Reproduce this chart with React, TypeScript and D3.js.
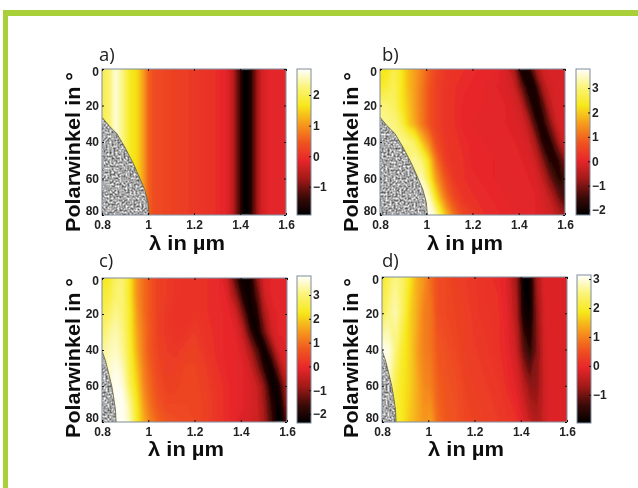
import React, { useEffect, useRef } from 'react';
import * as d3 from 'd3';

const anglesFine = [0, 10, 20, 30, 40, 50, 60, 70, 80];
const anglesCoarse = [0, 20, 40, 60, 80];
const anglesFlat = [0, 80];

const wavelengthsA = [0.8, 0.83, 0.86, 0.89, 0.92, 0.95, 0.98, 1.0, 1.03, 1.1, 1.2, 1.3, 1.35, 1.37, 1.39, 1.41, 1.43, 1.45, 1.47, 1.49, 1.52, 1.6];
const wavelengthsWide = [0.8, 0.83, 0.86, 0.89, 0.92, 0.95, 0.98, 1.01, 1.04, 1.08, 1.12, 1.16, 1.2, 1.25, 1.3, 1.34, 1.38, 1.41, 1.44, 1.47, 1.5, 1.53, 1.56, 1.58, 1.6];

const rowA = [2.0, 2.2, 2.7, 2.3, 1.75, 1.6, 1.1, 0.6, 0.35, 0.25, 0.12, -0.02, -0.2, -0.5, -1.1, -1.75, -1.9, -1.5, -0.85, -0.35, -0.15, -0.15];
const valuesA = [rowA, rowA];

const valuesB = [
  [2.3, 2.3, 2.7, 2.4, 1.9, 1.6, 1.3, .9, .6, .35, .25, .2, .15, .1, .05, -.05, -.6, -2.0, -1.9, -.8, -.2, -.1, -.1, -.1, -.1],
  [2.4, 2.6, 2.8, 2.4, 1.9, 1.6, 1.2, .8, .5, .3, .2, .15, .1, .05, 0, -.05, -.2, -1.0, -1.9, -1.9, -.7, -.2, -.1, -.1, -.1],
  [3.1, 3.0, 2.9, 2.4, 2.0, 1.6, 1.2, .8, .5, .3, .2, .1, .1, .05, 0, 0, -.1, -.3, -1.2, -2.0, -1.5, -.5, -.1, -.1, -.1],
  [3.2, 3.2, 3.1, 2.8, 2.1, 1.7, 1.2, .8, .5, .3, .2, .1, .05, .05, 0, 0, -.05, -.1, -.4, -1.4, -1.9, -1.1, -.3, -.1, -.1],
  [3.2, 3.2, 3.2, 3.2, 3.1, 2.8, 2.0, 1.4, .7, .35, .25, .15, .1, .05, .05, 0, 0, -.05, -.15, -.6, -1.6, -1.9, -1.0, -.4, -.2],
  [3.0, 3, 3, 3, 3.1, 3.3, 3.0, 2.2, 1.2, .45, .25, .2, .1, .1, .05, .05, 0, 0, -.05, -.2, -.8, -1.6, -1.8, -1.4, -.8],
  [3, 3, 3, 3, 3, 3.2, 3.5, 2.6, 1.6, .8, .35, .2, .15, .1, .05, .05, .05, 0, 0, -.05, -.3, -.9, -1.5, -1.7, -1.4],
  [3, 3, 3, 3, 3, 3, 3.6, 3.5, 2.3, 1.2, .6, .3, .2, .15, .1, .05, .05, .05, 0, 0, -.1, -.3, -.8, -1.2, -1.4],
  [3, 3, 3, 3, 3, 3, 3.5, 3.8, 3.4, 2.0, 1.1, .6, .4, .2, .15, .1, .05, .05, .05, 0, -.05, -.15, -.3, -.5, -.7],
];

const valuesC = [
  [2.3, 2.4, 2.9, 3.0, 2.3, 1.4, 1.0, .7, .4, .3, .2, .15, .1, .1, .05, -.3, -1.6, -2.3, -2.2, -1.0, -.2, -.1, -.1, -.1, -.1],
  [2.5, 2.6, 3.0, 3.0, 2.3, 1.4, 1.0, .7, .4, .3, .2, .1, .1, .1, .05, -.1, -.9, -2.0, -2.2, -1.5, -.4, -.1, -.1, -.1, -.1],
  [2.7, 2.9, 3.2, 3.0, 2.4, 1.5, 1.0, .7, .4, .25, .1, .1, .2, .1, .05, 0, -.3, -1.2, -2.2, -2.0, -.8, -.2, -.1, -.1, -.1],
  [2.9, 3.2, 3.4, 3.1, 2.4, 1.6, 1.1, .7, .4, .25, .15, .2, .3, .15, .05, 0, -.1, -.5, -1.6, -2.3, -1.3, -.4, -.1, -.1, -.1],
  [3.2, 3.4, 3.5, 3.2, 2.5, 1.7, 1.1, .7, .45, .3, .25, .35, .4, .2, .05, 0, -.05, -.2, -.7, -1.5, -2.3, -1.3, -.3, -.15, -.1],
  [3.3, 3.5, 3.7, 3.4, 2.6, 1.9, 1.2, .8, .5, .35, .35, .45, .45, .3, .1, 0, -.05, -.1, -.3, -.9, -1.8, -2.3, -1.2, -.5, -.2],
  [3.3, 3.5, 3.8, 3.6, 2.8, 2.1, 1.3, .9, .6, .4, .4, .5, .5, .35, .15, .05, -.05, -.1, -.2, -.4, -1.0, -2.1, -2.2, -1.3, -.6],
  [3.3, 3.5, 3.8, 3.8, 3.2, 2.3, 1.5, 1.0, .7, .5, .5, .5, .5, .4, .2, .05, -.05, -.1, -.2, -.3, -.8, -1.7, -2.3, -1.9, -.8],
  [3.3, 3.5, 3.8, 3.8, 3.4, 2.4, 1.7, 1.2, .9, .7, .6, .55, .5, .4, .2, .05, -.1, -.2, -.25, -.35, -.7, -1.5, -2.3, -2.3, -1.3],
];

const valuesD = [
  [1.9, 2.3, 2.6, 2.4, 1.9, 1.4, 1.2, .8, .5, .4, .3, .25, .2, .1, .05, -.1, -.7, -1.9, -1.9, -.6, -.15, -.1, -.1, -.1, -.1],
  [2.2, 2.6, 2.8, 2.3, 1.7, 1.4, 1.0, .9, .5, .4, .35, .3, .2, .15, .1, -.05, -.5, -1.7, -1.9, -.8, -.2, -.1, -.1, -.1, -.1],
  [3.1, 3.0, 2.5, 2.0, 1.7, 1.3, 1.0, .9, .6, .5, .4, .3, .25, .2, .1, 0, -.3, -1.1, -1.5, -.9, -.25, -.1, -.1, -.1, -.1],
  [3.0, 2.8, 2.2, 1.9, 1.7, 1.4, 1.1, 1.0, .7, .55, .5, .35, .3, .25, .2, .05, -.1, -.4, -.8, -.8, -.3, -.1, -.1, -.1, -.1],
  [2.6, 2.4, 2.1, 1.9, 1.6, 1.4, 1.2, 1.3, .8, .6, .55, .4, .35, .3, .25, .2, .1, -.1, -.35, -.55, -.3, -.1, -.1, -.1, -.1],
];

// edge of the grey region, as [wavelength, angle]
const maskAB = [[0.8, 26.5], [0.83, 31], [0.865, 35.5], [0.9, 43], [0.937, 52], [0.965, 60], [0.985, 66], [1.0, 73], [1.005, 80]];
const maskCD = [[0.8, 40.5], [0.815, 46], [0.829, 53], [0.842, 60], [0.85, 66], [0.858, 73], [0.861, 80]];

const xTicks = [0.8, 1, 1.2, 1.4, 1.6];
const yTicks = [0, 20, 40, 60, 80];

const panels = [
  { name: 'a)', lambda: wavelengthsA, angle: anglesFlat, values: valuesA, mask: maskAB, domain: [-1.92, 2.85], bar: [-1, 0, 1, 2], left: 102, top: 69, width: 184, height: 146, barX: 297, barTop: 69, barH: 146, labelX: 99, labelY: 61, yLabelX: 80, xLabelX: 187, xLabelY: 250, yLabelY: 152 },
  { name: 'b)', lambda: wavelengthsWide, angle: anglesFine, values: valuesB, mask: maskAB, domain: [-2.2, 3.78], bar: [-2, -1, 0, 1, 2, 3], left: 380, top: 69, width: 185, height: 146, barX: 576, barTop: 69, barH: 146, labelX: 382, labelY: 61, yLabelX: 358, xLabelX: 465, xLabelY: 250, yLabelY: 152 },
  { name: 'c)', lambda: wavelengthsWide, angle: anglesFine, values: valuesC, mask: maskCD, domain: [-2.38, 3.8], bar: [-2, -1, 0, 1, 2, 3], left: 102, top: 278, width: 185, height: 144, barX: 297, barTop: 276, barH: 147, labelX: 99, labelY: 267, yLabelX: 80, xLabelX: 186, xLabelY: 456, yLabelY: 358 },
  { name: 'd)', lambda: wavelengthsWide, angle: anglesCoarse, values: valuesD, mask: maskCD, domain: [-1.97, 3.14], bar: [-1, 0, 1, 2, 3], left: 382, top: 277, width: 185, height: 145, barX: 577, barTop: 275, barH: 148, labelX: 382, labelY: 267, yLabelX: 358, xLabelX: 466, xLabelY: 456, yLabelY: 358 },
];

const hot = d3.scaleLinear<string>()
  .domain([0, 0.12, 0.25, 0.375, 0.5, 0.62, 0.75, 0.88, 1])
  .range(['#000000', '#3a0a08', '#a31a18', '#e8262a', '#f0561f', '#f6981c', '#f7e81a', '#fbf47c', '#ffffff']);

const FONT = '"Liberation Sans", Arial, sans-serif';

export default function App() {
  const ref = useRef<SVGSVGElement>(null);

  useEffect(() => {
    const svg = d3.select(ref.current);
    svg.selectAll('*').remove();

    const defs = svg.append('defs');
    const soft = defs.append('filter').attr('id', 'soft').attr('x', '-5%').attr('y', '-5%').attr('width', '110%').attr('height', '110%');
    soft.append('feGaussianBlur').attr('stdDeviation', 1.2);
    const textBlur = defs.append('filter').attr('id', 'textBlur').attr('x', '-10%').attr('y', '-10%').attr('width', '120%').attr('height', '120%');
    textBlur.append('feGaussianBlur').attr('stdDeviation', 0.4);
    const noise = defs.append('filter').attr('id', 'speckle').attr('x', 0).attr('y', 0).attr('width', '100%').attr('height', '100%')
      .attr('color-interpolation-filters', 'sRGB');
    noise.append('feTurbulence').attr('type', 'fractalNoise').attr('baseFrequency', 0.5).attr('numOctaves', 2).attr('seed', 4).attr('result', 'n');
    noise.append('feColorMatrix').attr('in', 'n').attr('type', 'matrix')
      .attr('values', '1.2 0 0 0 0.06 1.2 0 0 0 0.06 1.2 0 0 0 0.06 0 0 0 0 1').attr('result', 'g');
    noise.append('feGaussianBlur').attr('in', 'g').attr('stdDeviation', 0.4).attr('result', 'b');
    noise.append('feComposite').attr('in', 'b').attr('in2', 'SourceAlpha').attr('operator', 'in');

    // green page frame
    svg.append('rect').attr('x', 3).attr('y', 10).attr('width', 635).attr('height', 6).attr('fill', '#a9d039');
    svg.append('rect').attr('x', 3).attr('y', 10).attr('width', 5).attr('height', 478).attr('fill', '#a9d039');

    panels.forEach((p, idx) => {
      const g = svg.append('g');
      const x = d3.scaleLinear().domain([0.8, 1.6]).range([p.left, p.left + p.width]);
      const y = d3.scaleLinear().domain([0, 80]).range([p.top, p.top + p.height]);
      const c = d3.scaleLinear().domain(p.domain).range([0, 1]).clamp(true);
      const color = (v: number) => hot(c(v));

      const n = p.lambda.length;
      const m = p.angle.length;
      // contour coordinates put grid point i at i + 0.5
      const ix = d3.scaleLinear().domain(p.lambda.map((_, i) => i + 0.5)).range(p.lambda).clamp(true);
      const iy = d3.scaleLinear().domain(p.angle.map((_, i) => i + 0.5)).range(p.angle).clamp(true);
      const path = d3.geoPath(d3.geoTransform({
        point(px, py) { this.stream.point(x(ix(px)), y(iy(py))); },
      }));
      const thresholds = d3.range(p.domain[0], p.domain[1], (p.domain[1] - p.domain[0]) / 90);
      const contours = d3.contours().size([n, m]).thresholds(thresholds)(p.values.flat());

      const clipId = `clip${idx}`;
      defs.append('clipPath').attr('id', clipId).append('rect')
        .attr('x', p.left).attr('y', p.top).attr('width', p.width).attr('height', p.height);

      const plot = g.append('g').attr('clip-path', `url(#${clipId})`);
      const field = plot.append('g').attr('filter', 'url(#soft)');
      field.selectAll('path').data(contours).join('path')
        .attr('d', d => path(d))
        .attr('fill', d => color(d.value))
        .attr('stroke', d => color(d.value))
        .attr('stroke-width', 0.5);

      const area = d3.area<number[]>().x0(x(0.8)).x1(d => x(d[0])).y(d => y(d[1]));
      const maskPath = area([...p.mask, [p.mask[p.mask.length - 1][0], 80]]);
      plot.append('path').attr('d', maskPath).attr('fill', '#888').attr('filter', 'url(#speckle)');
      const edge = d3.line<number[]>().x(d => x(d[0])).y(d => y(d[1]));
      plot.append('path').attr('d', edge(p.mask)).attr('fill', 'none').attr('stroke', '#5a5a44').attr('stroke-width', 0.8);

      // box and ticks
      g.append('rect').attr('x', p.left).attr('y', p.top).attr('width', p.width).attr('height', p.height)
        .attr('fill', 'none').attr('stroke', '#7f8c9c').attr('stroke-width', 1);

      const styleAxis = (a: any) => {
        a.select('.domain').remove();
        a.selectAll('line').attr('stroke', '#111').attr('stroke-width', 1);
        a.selectAll('text').attr('font-family', FONT).attr('font-weight', 700).attr('font-size', 12).attr('fill', '#222').attr('filter', 'url(#textBlur)');
      };
      g.append('g').attr('transform', `translate(0,${p.top + p.height})`)
        .call(d3.axisBottom(x).tickValues(xTicks).tickFormat(d3.format('~g') as any).tickSize(-2).tickPadding(5))
        .call(styleAxis);
      g.append('g').attr('transform', `translate(${p.left},0)`)
        .call(d3.axisLeft(y).tickValues(yTicks).tickFormat(d3.format('d') as any).tickSize(-2).tickPadding(3))
        .call(styleAxis)
        // end labels sit slightly inside the axis, clear of the 0.8 below
        .call((a: any) => {
          a.selectAll('text').attr('dy', (d: number) => (d === 80 ? '-0.05em' : d === 0 ? '0.5em' : '0.32em'));
        });
      g.append('g').attr('transform', `translate(0,${p.top})`)
        .call(d3.axisTop(x).tickValues(xTicks).tickFormat(() => '').tickSize(-2))
        .call(styleAxis);
      g.append('g').attr('transform', `translate(${p.left + p.width},0)`)
        .call(d3.axisRight(y).tickValues(yTicks).tickFormat(() => '').tickSize(-2))
        .call(styleAxis);

      // colour bar
      const gradId = `grad${idx}`;
      const grad = defs.append('linearGradient').attr('id', gradId).attr('x1', 0).attr('x2', 0).attr('y1', 1).attr('y2', 0);
      hot.domain().forEach(t => {
        grad.append('stop').attr('offset', t).attr('stop-color', hot(t));
      });
      const barW = 14;
      const by = d3.scaleLinear().domain(p.domain).range([p.barTop + p.barH, p.barTop]);
      g.append('rect').attr('x', p.barX).attr('y', p.barTop).attr('width', barW).attr('height', p.barH)
        .attr('fill', `url(#${gradId})`).attr('stroke', '#7f8c9c').attr('stroke-width', 1);
      g.append('g').attr('transform', `translate(${p.barX + barW},0)`)
        .call(d3.axisRight(by).tickValues(p.bar).tickFormat(d3.format('d') as any).tickSize(-2).tickPadding(2))
        .call(styleAxis);

      // titles
      g.append('text').attr('x', p.labelX).attr('y', p.labelY).text(p.name)
        .attr('font-family', '"Open Sans", sans-serif').attr('font-size', 18.5).attr('fill', '#222').attr('filter', 'url(#textBlur)');
      g.append('text').attr('transform', `translate(${p.yLabelX},${p.yLabelY}) rotate(-90)`)
        .attr('text-anchor', 'middle').text('Polarwinkel in °')
        .attr('textLength', 160).attr('lengthAdjust', 'spacingAndGlyphs')
        .attr('font-family', FONT).attr('font-weight', 700).attr('font-size', 21).attr('fill', '#111').attr('filter', 'url(#textBlur)');
      g.append('text').attr('x', p.xLabelX).attr('y', p.xLabelY).attr('text-anchor', 'middle').text('λ in µm')
        .attr('textLength', 76).attr('lengthAdjust', 'spacingAndGlyphs')
        .attr('font-family', FONT).attr('font-weight', 700).attr('font-size', 20).attr('fill', '#111').attr('filter', 'url(#textBlur)');
    });
  }, []);

  return (
    <svg ref={ref} width={638} height={488} style={{ position: 'fixed', left: 0, top: 0, background: '#fff' }}>
    </svg>
  );
}
